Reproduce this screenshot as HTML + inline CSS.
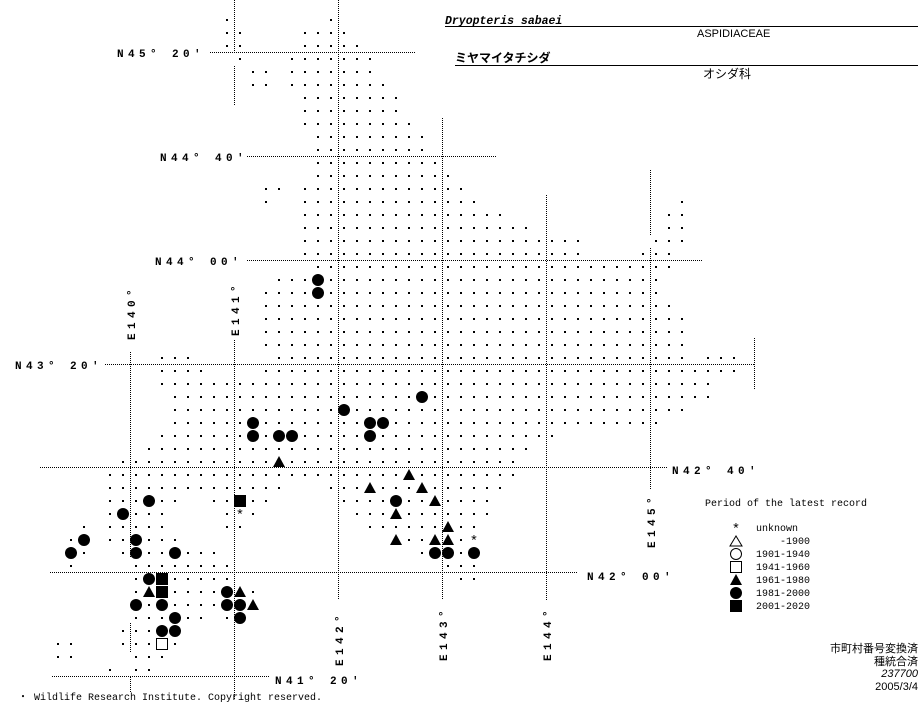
<!DOCTYPE html>
<html><head><meta charset="utf-8">
<style>
html,body{margin:0;padding:0;background:#fff;}
body{width:923px;height:703px;overflow:hidden;position:relative;}
svg{position:absolute;left:0;top:0;}
.lb{font-family:"Liberation Mono",monospace;font-weight:bold;font-size:11px;letter-spacing:4.4px;fill:#000;}
.t{font-family:"Liberation Mono","Noto Sans CJK JP",monospace;font-size:10px;fill:#000;}
</style></head><body>
<svg id="s" width="923" height="703" viewBox="0 0 923 703" xmlns="http://www.w3.org/2000/svg">
<g stroke="#000" stroke-width="1" stroke-dasharray="1 1" fill="none">
<line x1="210" y1="52.5" x2="416" y2="52.5"/>
<line x1="247" y1="156.5" x2="496" y2="156.5"/>
<line x1="247" y1="260.5" x2="703" y2="260.5"/>
<line x1="105" y1="364.5" x2="755" y2="364.5"/>
<line x1="40" y1="467.5" x2="668" y2="467.5"/>
<line x1="50" y1="572.5" x2="578" y2="572.5"/>
<line x1="52" y1="676.5" x2="270" y2="676.5"/>
<line x1="130.5" y1="352" x2="130.5" y2="557"/>
<line x1="130.5" y1="623" x2="130.5" y2="652"/>
<line x1="130.5" y1="677" x2="130.5" y2="693"/>
<line x1="234.5" y1="0" x2="234.5" y2="52"/>
<line x1="234.5" y1="66" x2="234.5" y2="105"/>
<line x1="234.5" y1="340" x2="234.5" y2="700"/>
<line x1="338.5" y1="0" x2="338.5" y2="600"/>
<line x1="442.5" y1="118" x2="442.5" y2="600"/>
<line x1="546.5" y1="195" x2="546.5" y2="600"/>
<line x1="650.5" y1="170" x2="650.5" y2="235"/>
<line x1="650.5" y1="248" x2="650.5" y2="490"/>
<line x1="754.5" y1="338" x2="754.5" y2="390"/>
</g>
<g id="d"></g>
<g class="lb">
<text x="117" y="57">N45° 20′</text>
<text x="160" y="161">N44° 40′</text>
<text x="155" y="265">N44° 00′</text>
<text x="15" y="369">N43° 20′</text>
<text x="672" y="474">N42° 40′</text>
<text x="587" y="580">N42° 00′</text>
<text x="275" y="684">N41° 20′</text>
<text transform="translate(135,340) rotate(-90)">E140°</text>
<text transform="translate(239,336) rotate(-90)">E141°</text>
<text transform="translate(343,666) rotate(-90)">E142°</text>
<text transform="translate(447,661) rotate(-90)">E143°</text>
<text transform="translate(551,661) rotate(-90)">E144°</text>
<text transform="translate(655,548) rotate(-90)">E145°</text>
</g>
<text x="445" y="24" style="font-family:'Liberation Mono',monospace;font-weight:bold;font-style:italic;font-size:11.5px;">Dryopteris sabaei</text>
<line x1="445" y1="26.5" x2="918" y2="26.5" stroke="#000"/>
<text x="697" y="37" style="font-family:'Liberation Sans',sans-serif;font-size:11px">ASPIDIACEAE</text>
<text x="455" y="62" style="font-family:'Noto Sans CJK JP',sans-serif;font-size:12px;font-weight:bold">ミヤマイタチシダ</text>
<line x1="455" y1="65.5" x2="918" y2="65.5" stroke="#000"/>
<text x="703" y="78" style="font-family:'Noto Sans CJK JP',sans-serif;font-size:12px">オシダ科</text>
<text x="705" y="506" class="t">Period of the latest record</text>
<g class="t">
<text x="756" y="531">unknown</text>
<text x="756" y="544" xml:space="preserve">    -1900</text>
<text x="756" y="557">1901-1940</text>
<text x="756" y="570">1941-1960</text>
<text x="756" y="583">1961-1980</text>
<text x="756" y="596">1981-2000</text>
<text x="756" y="609">2001-2020</text>
</g>
<g style="font-family:'Liberation Sans','Noto Sans CJK JP',sans-serif;font-size:11px" text-anchor="end">
<text x="918" y="652">市町村番号変換済</text>
<text x="918" y="665">種統合済</text>
<text x="918" y="677" font-style="italic">237700</text>
<text x="918" y="690">2005/3/4</text>
</g>
<text x="18" y="700" class="t">・ Wildlife Research Institute. Copyright reserved.</text>
</svg>
<script>
var rows={1:"17,25",2:"17,18,23-26",3:"17,18,23-27",4:"18,22-28",5:"19,20,22-28",6:"19,20,22-29",7:"23-30",8:"23-30",9:"23-31",10:"24-32",11:"24-32",12:"24-33",13:"24-34",14:"20,21,23-35",15:"20,23-36,52",16:"23-38,51,52",17:"23-40,51,52",18:"23-44,50-52",19:"23-44,49-51",20:"24-51",21:"21-50",22:"20-50",23:"20-51",24:"20-52",25:"20-52",26:"20-52",27:"12-14,21-52,54-56",28:"12-15,20-56",29:"12-54",30:"13-54",31:"13-52",32:"13-50",33:"12-42",34:"11-40",35:"9-39",36:"8-39",37:"8-21,25-38",38:"8-13,16-20,26-37",39:"8-12,17-19,27-37",40:"6,8-12,17,18,28-36",41:"5,6,8-13,30-36",42:"5,6,9-16,32-36",43:"5,10-17,34-36",44:"10-17,35,36",45:"10-19",46:"10-19",47:"10-15,17,18",48:"9-13",49:"4,5,9-13",50:"4,5,10-12",51:"8,10,11"};
var C=[[24,21],[24,22],[26,31],[32,30],[19,32],[28,32],[29,32],[19,33],[21,33],[22,33],[28,33],[11,38],[30,38],[9,39],[33,42],[34,42],[36,42],[6,41],[10,41],[5,42],[10,42],[13,42],[11,44],[17,45],[10,46],[12,46],[17,46],[18,46],[13,47],[18,47],[12,48],[13,48]];
var T=[[21,35],[31,36],[28,37],[32,37],[33,38],[30,39],[34,40],[30,41],[33,41],[34,41],[11,45],[18,45],[19,46]];
var S=[[18,38],[12,44],[12,45]],O=[[12,49]],A=[[18,39],[36,41]];
var big={};[C,T,S,O,A].forEach(function(l){l.forEach(function(p){big[p[0]+","+p[1]]=1;});});
var h="";function X(c){return 6+13*c;}function Y(r){return 7+13*r;}
for(var r in rows){rows[r].split(",").forEach(function(p){var a=p.split("-"),s=+a[0],e=a.length>1?+a[1]:s;for(var c=s;c<=e;c++){if(big[c+","+r])continue;h+='<rect x="'+(X(c)-1)+'" y="'+(Y(+r)-1)+'" width="2" height="2"/>';}});}
C.forEach(function(p){h+='<circle cx="'+X(p[0])+'" cy="'+Y(p[1])+'" r="6"/>';});
T.forEach(function(p){var x=X(p[0]),y=Y(p[1]);h+='<polygon points="'+(x-6)+','+(y+5)+' '+(x+6)+','+(y+5)+' '+x+','+(y-6)+'"/>';});
S.forEach(function(p){h+='<rect x="'+(X(p[0])-6)+'" y="'+(Y(p[1])-6)+'" width="12" height="12"/>';});
O.forEach(function(p){h+='<rect x="'+(X(p[0])-5.5)+'" y="'+(Y(p[1])-5.5)+'" width="11" height="11" fill="#fff" stroke="#000"/>';});
A.forEach(function(p){var x=X(p[0]),y=Y(p[1]);h+='<text x="'+x+'" y="'+(y+5)+'" text-anchor="middle" style="font-family:Liberation Mono,monospace;font-size:14px">*</text>';});
h+='<text x="736" y="533" text-anchor="middle" style="font-family:Liberation Mono,monospace;font-size:14px">*</text>';
h+='<polygon points="730,546 742,546 736,536" fill="#fff" stroke="#000"/>';
h+='<circle cx="736" cy="554" r="5.5" fill="#fff" stroke="#000"/>';
h+='<rect x="730.5" y="561.5" width="11" height="11" fill="#fff" stroke="#000"/>';
h+='<polygon points="730,585 742,585 736,574"/>';
h+='<circle cx="736" cy="593" r="6"/>';
h+='<rect x="730" y="600" width="12" height="12"/>';
document.getElementById("d").innerHTML=h;
</script>
</body></html>
